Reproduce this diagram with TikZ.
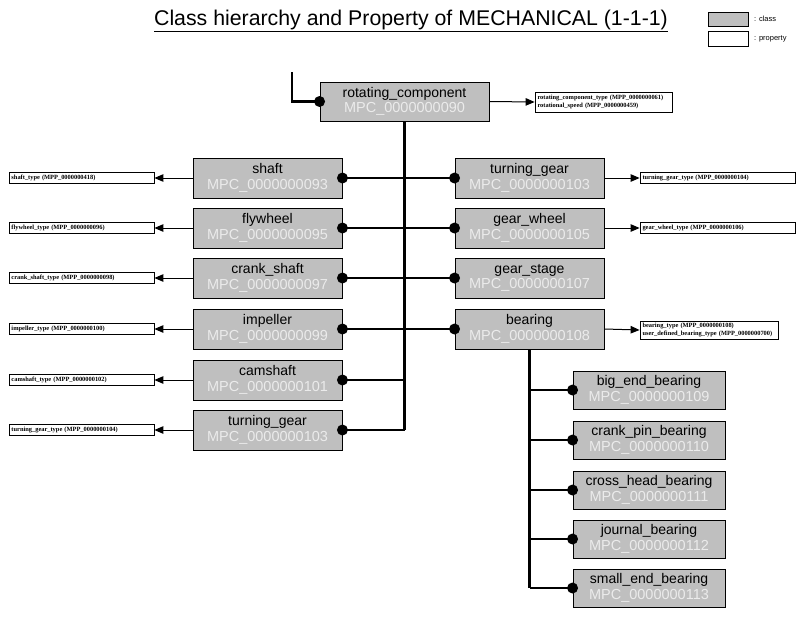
\documentclass[tikz,border=0pt]{standalone}
\usepackage{fontspec}
\setmainfont{Liberation Sans}
\newfontfamily\propfont{Liberation Serif}
\usetikzlibrary{arrows.meta}
\definecolor{clsgray}{HTML}{BFBFBF}
\definecolor{idgray}{HTML}{EBEBEB}
\newcommand{\cid}[1]{{\color{idgray}\fontsize{14.5}{15}\selectfont #1}}
\begin{document}
\begin{tikzpicture}[x=1pt,y=-1pt,
  cls/.style={draw=black, line width=0.9pt, fill=clsgray, minimum width=149pt, minimum height=40pt,
    inner sep=0pt, align=center, font=\fontsize{14}{15.5}\selectfont},
  subcls/.style={cls, minimum width=152pt, minimum height=38pt},
  prop/.style={draw=black, line width=0.8pt, fill=white, inner sep=0pt, minimum height=11pt,
    align=left, font=\propfont\bfseries\fontsize{6.4}{7.6}\selectfont},
  conn/.style={line width=2.3pt},
  parrow/.style={line width=1pt, -{Triangle[length=9pt,width=7.5pt]}},
  dot/.style={fill=black},
  legtxt/.style={font=\fontsize{7.5}{8}\selectfont, anchor=west, inner sep=0pt}
]
\useasboundingbox (0,0) rectangle (800,624);

% title and legend
\node[font=\fontsize{21.3}{24}\selectfont, inner sep=0pt] (title) at (411,21)
  {\underline{Class hierarchy and Property of MECHANICAL (1-1-1)}};
\node[draw=black, line width=0.8pt, fill=clsgray, minimum width=40pt, minimum height=14pt, inner sep=0pt] (lc) at (728,19) {};
\node[legtxt] (lct) at (754,19) {: class};
\node[draw=black, line width=0.8pt, fill=white, minimum width=40pt, minimum height=15pt, inner sep=0pt] (lp) at (728,38.5) {};
\node[legtxt] (lpt) at (754,39) {: property};

% root
\node[cls, minimum width=169pt, minimum height=39pt] (rc) at (404.5,101.5) {rotating\_component\\\cid{MPC\_0000000090}};
\coordinate (tl) at (292,72);

% left column
\node[cls] (shaft) at (267.5,178) {shaft\\\cid{MPC\_0000000093}};
\node[cls] (fly) at (267.5,228) {flywheel\\\cid{MPC\_0000000095}};
\node[cls] (crank) at (267.5,278) {crank\_shaft\\\cid{MPC\_0000000097}};
\node[cls] (imp) at (267.5,329) {impeller\\\cid{MPC\_0000000099}};
\node[cls] (cam) at (267.5,380) {camshaft\\\cid{MPC\_0000000101}};
\node[cls] (ltg) at (267.5,430) {turning\_gear\\\cid{MPC\_0000000103}};

% right column
\node[cls] (rtg) at (529.5,178) {turning\_gear\\\cid{MPC\_0000000103}};
\node[cls] (gw) at (529.5,228) {gear\_wheel\\\cid{MPC\_0000000105}};
\node[cls] (gs) at (529.5,278) {gear\_stage\\\cid{MPC\_0000000107}};
\node[cls] (bear) at (529.5,329) {bearing\\\cid{MPC\_0000000108}};

% bearing subclasses
\node[subcls] (beb) at (649,390) {big\_end\_bearing\\\cid{MPC\_0000000109}};
\node[subcls] (cpb) at (649,440) {crank\_pin\_bearing\\\cid{MPC\_0000000110}};
\node[subcls] (chb) at (649,490) {cross\_head\_bearing\\\cid{MPC\_0000000111}};
\node[subcls] (jb) at (649,539) {journal\_bearing\\\cid{MPC\_0000000112}};
\node[subcls] (seb) at (649,588) {small\_end\_bearing\\\cid{MPC\_0000000113}};

% properties
\node[prop, minimum width=137pt, minimum height=20pt, text width=132pt] (prc) at (603.5,102)
  {rotating\_component\_type (MPP\_0000000061)\\rotational\_speed (MPP\_0000000459)};
\node[prop, minimum width=145pt, text width=140pt] (pshaft) at (81.5,178) {shaft\_type (MPP\_0000000418)};
\node[prop, minimum width=145pt, text width=140pt] (pfly) at (81.5,228) {flywheel\_type (MPP\_0000000096)};
\node[prop, minimum width=145pt, text width=140pt] (pcrank) at (81.5,278) {crank\_shaft\_type (MPP\_0000000098)};
\node[prop, minimum width=145pt, text width=140pt] (pimp) at (81.5,329) {impeller\_type (MPP\_0000000100)};
\node[prop, minimum width=145pt, text width=140pt] (pcam) at (81.5,380) {camshaft\_type (MPP\_0000000102)};
\node[prop, minimum width=145pt, text width=140pt] (pltg) at (81.5,430) {turning\_gear\_type (MPP\_0000000104)};
\node[prop, minimum width=155pt, text width=150pt] (prtg) at (717.5,178) {turning\_gear\_type (MPP\_0000000104)};
\node[prop, minimum width=155pt, text width=150pt] (pgw) at (717.5,228) {gear\_wheel\_type (MPP\_0000000106)};
\node[prop, minimum width=138pt, minimum height=18pt, text width=133pt] (pbear) at (709,330)
  {bearing\_type (MPP\_0000000108)\\user\_defined\_bearing\_type (MPP\_0000000700)};

% property arrows
\draw[parrow] (rc.east) -- (prc.west);
\foreach \c/\p in {shaft/pshaft, fly/pfly, crank/pcrank, imp/pimp, cam/pcam, ltg/pltg}
  \draw[parrow] (\c.west) -- (\p.east);
\draw[parrow] (rtg.east) -- (prtg.west);
\draw[parrow] (gw.east) -- (pgw.west);
\draw[parrow] (bear.east) -- (pbear.west);

% hierarchy connectors
\draw[conn] (tl) |- (rc.west);
\draw[conn] (rc.south) -- (rc.south |- ltg.east);
\foreach \c in {shaft, fly, crank, imp, cam, ltg}
  \draw[conn] (\c.east) -- (\c.east -| rc.south);
\foreach \c in {rtg, gw, gs, bear}
  \draw[conn] (rc.south |- \c.west) -- (\c.west);
\draw[conn] (bear.south) -- (bear.south |- seb.west);
\foreach \c in {beb, cpb, chb, jb, seb}
  \draw[conn] (bear.south |- \c.west) -- (\c.west);

% dots
\foreach \c in {shaft, fly, crank, imp, cam, ltg}
  \fill[dot] (\c.east) circle (5.5pt);
\foreach \c in {rc, rtg, gw, gs, bear, beb, cpb, chb, jb, seb}
  \fill[dot] (\c.west) circle (5.5pt);
\end{tikzpicture}
\end{document}
